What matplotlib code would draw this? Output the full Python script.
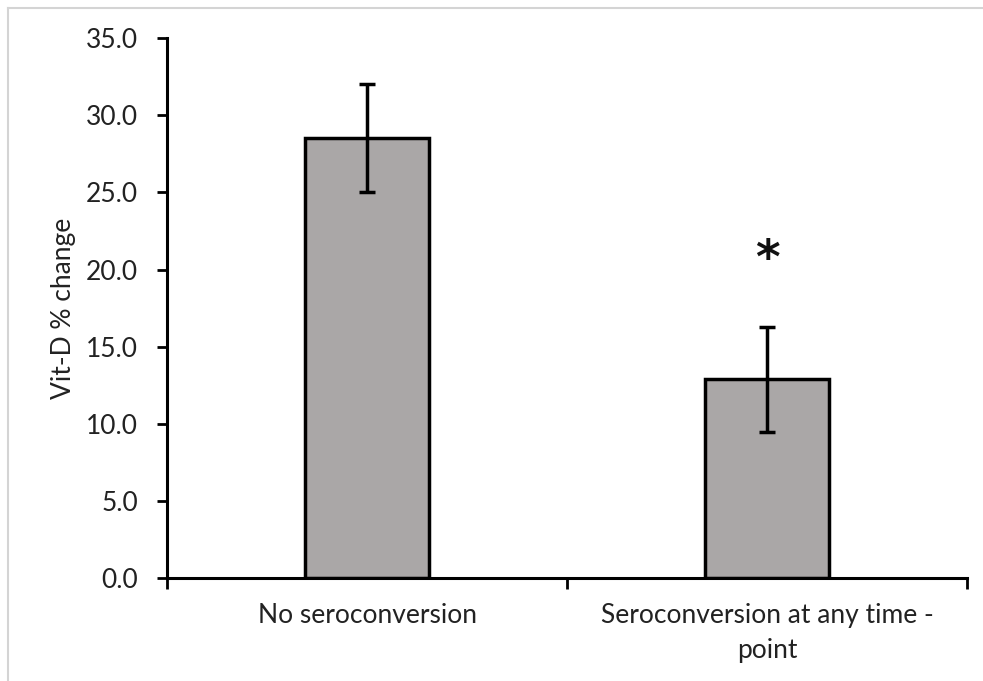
import matplotlib
matplotlib.use("Agg")
import matplotlib.pyplot as plt
from matplotlib.lines import Line2D

categories = ["No seroconversion", "Seroconversion at any time -\npoint"]
values = [28.5, 12.9]
errors = [3.5, 3.4]
yticks = [0, 5, 10, 15, 20, 25, 30, 35]

plt.rcParams['font.family'] = ['Lato', 'DejaVu Sans']
FS = 19

fig = plt.figure(figsize=(9.83, 6.81), dpi=100)
ax = fig.add_axes([0.170, 0.151, 0.814, 0.793])

x = list(range(len(categories)))
ax.bar(x, values, width=0.31, color="#aaa7a7", edgecolor="black", linewidth=2.5,
       yerr=errors, error_kw=dict(ecolor="black", elinewidth=2.5, capsize=6, capthick=2.5),
       zorder=2)

ax.text(1, 20.6, "*", ha="center", va="center", fontsize=34, fontweight="bold",
        family="DejaVu Sans", color="#111111")

ax.set_xlim(-0.5, 1.5)
ax.set_ylim(0, 35)
ax.set_yticks(yticks)
ax.set_yticklabels([f"{t:.1f}" for t in yticks], fontsize=FS, color="#222222")
ax.set_xticks([-0.5, 0.5, 1.5], minor=False)
ax.set_xticklabels([])
ax.set_xticks(x, minor=True)
ax.set_xticklabels(categories, minor=True, fontsize=FS, color="#222222", linespacing=1.5)
ax.tick_params(axis="x", which="minor", length=0, pad=18)
ax.tick_params(axis="x", which="major", length=8, width=2, direction="out")
ax.tick_params(axis="y", length=7, width=2, direction="out", pad=14)
for s in ["top", "right"]:
    ax.spines[s].set_visible(False)
for s in ["left", "bottom"]:
    ax.spines[s].set_linewidth(2.2)
ax.set_ylabel("Vit-D % change", fontsize=FS, color="#222222", labelpad=7)

fig.add_artist(Line2D([8/983, 1], [1-8/681, 1-8/681], transform=fig.transFigure, color="#d4d4d4", lw=1.5))
fig.add_artist(Line2D([8/983, 8/983], [0, 1-8/681], transform=fig.transFigure, color="#d4d4d4", lw=1.5))

fig.savefig("out.png", dpi=100)
